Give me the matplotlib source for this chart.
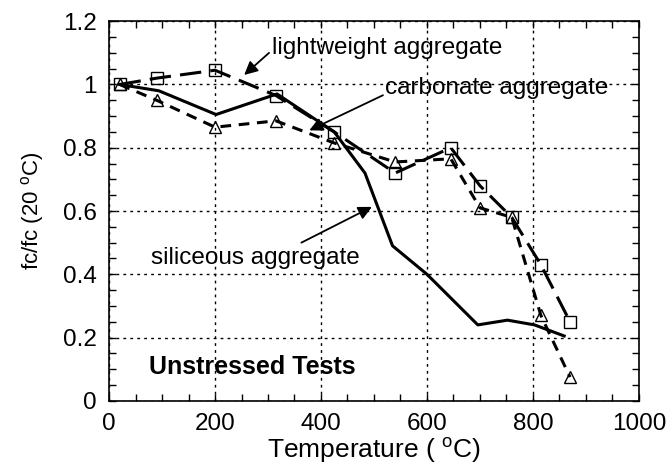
import numpy as np
import matplotlib
matplotlib.use("Agg")
import matplotlib.pyplot as plt
from matplotlib.ticker import MultipleLocator

plt.rcParams['font.family'] = ['Liberation Sans', 'DejaVu Sans']
plt.rcParams['mathtext.fontset'] = 'custom'
plt.rcParams['mathtext.rm'] = 'Liberation Sans'

# lightweight aggregate (squares)
temp_lw = [20, 90, 200, 315, 425, 540, 645, 700, 760, 815, 870]
ratio_lw = [1.0, 1.02, 1.045, 0.965, 0.85, 0.72, 0.80, 0.68, 0.58, 0.43, 0.25]

# carbonate aggregate (triangles)
temp_carb = [20, 90, 200, 315, 425, 540, 645, 700, 760, 815, 870]
ratio_carb = [1.0, 0.95, 0.865, 0.885, 0.815, 0.755, 0.765, 0.61, 0.58, 0.27, 0.075]

# siliceous aggregate (solid)
temp_sil = [20, 94, 202, 317, 425, 483, 535, 600, 696, 752, 803, 859]
ratio_sil = [1.0, 0.98, 0.905, 0.97, 0.85, 0.72, 0.49, 0.40, 0.24, 0.255, 0.24, 0.205]

fig = plt.figure(figsize=(6.69, 4.71), dpi=100)
ax = fig.add_axes([0.163, 0.149, 0.792, 0.806])

ax.plot(temp_sil, ratio_sil, color='black', lw=2.2, zorder=3)
ax.plot(temp_lw, ratio_lw, color='black', lw=2.2, dashes=(7, 3), marker='s',
        ms=9, mfc='none', mec='black', mew=1.0, zorder=3)
ax.plot(temp_carb, ratio_carb, color='black', lw=2.2, dashes=(3.5, 2.5), marker='^',
        ms=9, mfc='none', mec='black', mew=1.0, zorder=3)

ax.set_xlim(0, 1000)
ax.set_ylim(0, 1.2)
ax.xaxis.set_minor_locator(MultipleLocator(50))
ax.yaxis.set_minor_locator(MultipleLocator(0.05))
ax.set_xticks([0, 200, 400, 600, 800, 1000])
ax.set_xticklabels(['0', '200', '400', '600', '800', '1000'])
ax.set_yticks([0, 0.2, 0.4, 0.6, 0.8, 1.0, 1.2])
ax.set_yticklabels(['0', '0.2', '0.4', '0.6', '0.8', '1', '1.2'])
ax.tick_params(which='both', direction='in', top=True, right=True, width=1.0)
ax.tick_params(which='major', length=5, labelsize=17.5)
ax.tick_params(which='minor', length=5)
ax.tick_params(axis='x', which='major', pad=9)
ax.tick_params(axis='y', which='major', pad=9)
ax.grid(True, which='major', color='black', lw=1.0, linestyle=(0, (2, 3)))
for s in ax.spines.values():
    s.set_linewidth(1.2)

ax.set_xlabel('Temperature ( $^{\\rm o}$C)', fontsize=19, labelpad=0)
ax.set_ylabel('fc/fc (20 $^{\\rm o}$C)', fontsize=16, labelpad=12)

fs = 17.5
ax.text(307, 1.115, 'lightweight aggregate', fontsize=fs, va='center', ha='left')
ax.text(521, 0.99, 'carbonate aggregate', fontsize=fs, va='center', ha='left')
ax.text(80, 0.45, 'siliceous aggregate', fontsize=fs, va='center', ha='left')
ax.text(76, 0.107, 'Unstressed Tests', fontsize=18, fontweight='bold', va='center', ha='left')

arrow = dict(arrowstyle='-|>', color='black', lw=1.3, mutation_scale=20, shrinkA=0, shrinkB=0)
ax.annotate('', xy=(255, 1.03), xytext=(302, 1.10), arrowprops=arrow)
ax.annotate('', xy=(378, 0.855), xytext=(517, 0.966), arrowprops=arrow)
ax.annotate('', xy=(496, 0.613), xytext=(363, 0.50), arrowprops=arrow)

fig.savefig('out.png', dpi=100)
